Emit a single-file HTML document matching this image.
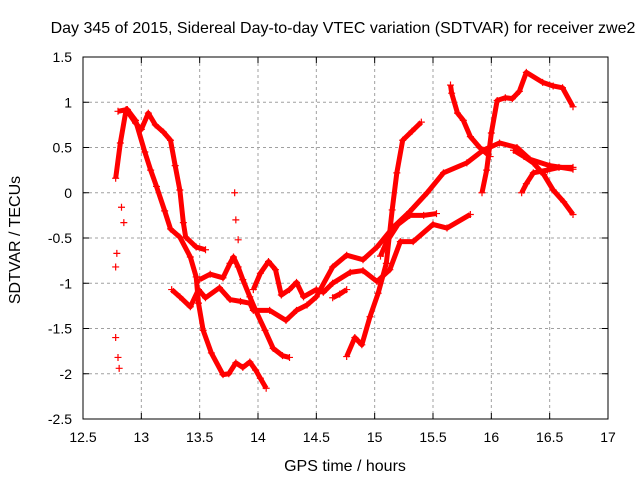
<!DOCTYPE html>
<html><head><meta charset="utf-8"><style>
body{margin:0;background:#fff;}
svg text{font-family:"Liberation Sans",sans-serif;fill:#000;}
</style></head><body>
<svg id="chart" width="640" height="480" xmlns="http://www.w3.org/2000/svg">
<rect width="640" height="480" fill="#fff"/>
<text x="343" y="33" font-size="16" text-anchor="middle">Day 345 of 2015, Sidereal Day-to-day VTEC variation (SDTVAR) for receiver zwe2</text>
<g id="grid"></g>
<g id="axes"></g>
<g id="marks"></g>
<text x="345" y="471" font-size="16" text-anchor="middle">GPS time / hours</text>
<text transform="translate(20,240) rotate(-90)" font-size="16" text-anchor="middle">SDTVAR / TECUs</text>
</svg>
<script>
const xTicks=[12.5,13,13.5,14,14.5,15,15.5,16,16.5,17];
const xTickLabels=["12.5","13","13.5","14","14.5","15","15.5","16","16.5","17"];
const yTicks=[1.5,1,0.5,0,-0.5,-1,-1.5,-2,-2.5];
const yTickLabels=["1.5","1","0.5","0","-0.5","-1","-1.5","-2","-2.5"];
const trackA_t=[12.78,12.82,12.87,12.95,13.0,13.06,13.12,13.19,13.25,13.29,13.33,13.36,13.38,13.47,13.55];
const trackA_v=[0.16,0.55,0.92,0.77,0.7,0.88,0.75,0.67,0.58,0.3,0.03,-0.33,-0.49,-0.6,-0.63];
const trackB_t=[12.8,12.88,12.95,13.03,13.08,13.13,13.2,13.25,13.33,13.42,13.47,13.49,13.53,13.6,13.7,13.75,13.81,13.87,13.93,13.98,14.02,14.07];
const trackB_v=[0.9,0.92,0.8,0.45,0.25,0.07,-0.2,-0.4,-0.49,-0.71,-0.93,-1.22,-1.52,-1.77,-2.01,-2.0,-1.88,-1.93,-1.87,-1.96,-2.05,-2.16];
const trackC_t=[13.26,13.33,13.42,13.49,13.55,13.67,13.76,13.85,13.93,13.96,14.1,14.24,14.33,14.42,14.5,14.64,14.76,14.9,15.02,15.16,15.3,15.45,15.59,15.79,15.93,16.07,16.22,16.33,16.5,16.7];
const trackC_v=[-1.07,-1.15,-1.26,-1.07,-1.16,-1.05,-1.18,-1.2,-1.22,-1.3,-1.3,-1.41,-1.3,-1.24,-1.15,-0.82,-0.69,-0.74,-0.6,-0.38,-0.21,0.0,0.22,0.33,0.47,0.55,0.5,0.37,0.3,0.26];
const trackD_t=[13.5,13.59,13.7,13.76,13.79,13.83,13.87,13.93,13.98,14.06,14.13,14.21,14.27];
const trackD_v=[-0.96,-0.9,-0.94,-0.78,-0.71,-0.82,-0.96,-1.15,-1.3,-1.52,-1.72,-1.8,-1.82];
const trackE_t=[13.96,14.02,14.09,14.15,14.2,14.27,14.33,14.39,14.5,14.56,14.64,14.79,14.9,15.02,15.13,15.22,15.33,15.5,15.62,15.82];
const trackE_v=[-1.07,-0.89,-0.76,-0.85,-1.13,-1.07,-0.99,-1.15,-1.07,-1.1,-1.0,-0.88,-0.86,-0.98,-0.85,-0.54,-0.54,-0.35,-0.39,-0.24];
const trackF_t=[15.05,15.1,15.2,15.3,15.42,15.53];
const trackF_v=[-0.7,-0.55,-0.35,-0.25,-0.25,-0.23];
const trackG_t=[14.76,14.83,14.89,14.96,15.03,15.1,15.15,15.19,15.24,15.32,15.4];
const trackG_v=[-1.81,-1.6,-1.68,-1.37,-1.11,-0.78,-0.19,0.22,0.58,0.68,0.78];
const trackH_t=[14.64,14.7,14.76];
const trackH_v=[-1.16,-1.12,-1.07];
const trackI_t=[15.65,15.66,15.71,15.76,15.82,15.9,15.99];
const trackI_v=[1.19,1.1,0.88,0.8,0.62,0.5,0.4];
const trackJ_t=[15.92,15.96,16.0,16.05,16.12,16.18,16.24,16.3,16.44,16.53,16.61,16.7];
const trackJ_v=[0.0,0.25,0.66,1.02,1.05,1.04,1.12,1.33,1.22,1.18,1.16,0.95];
const trackK_t=[16.19,16.28,16.36,16.45,16.53,16.62,16.7];
const trackK_v=[0.47,0.4,0.33,0.2,0.03,-0.1,-0.24];
const trackL_t=[16.26,16.3,16.36,16.48,16.58,16.7];
const trackL_v=[0.0,0.1,0.22,0.25,0.28,0.28];
const trackM_t=[13.8,13.81,13.83,12.83,12.85,12.79,12.78,12.78,12.8,12.81];
const trackM_v=[0.0,-0.3,-0.52,-0.16,-0.33,-0.67,-0.82,-1.6,-1.82,-1.94];

const X=t=>83+(t-12.5)*525/4.5;
const Y=v=>57+(1.5-v)*362/4;
const NS="http://www.w3.org/2000/svg";
function mk(tag,parent,attrs){const e=document.createElementNS(NS,tag);for(const k in attrs)e.setAttribute(k,attrs[k]);parent.appendChild(e);return e;}
const grid=document.getElementById('grid'),axes=document.getElementById('axes'),marks=document.getElementById('marks');
xTicks.forEach((t,i)=>{
 if(i>0&&i<xTicks.length-1){const g=mk('line',grid,{x1:X(t),x2:X(t),y1:57,y2:419,stroke:'#a0a0a0','stroke-dasharray':'3,3'});
 
 }
 mk('line',axes,{x1:X(t),x2:X(t),y1:419,y2:413,stroke:'#000'});
 mk('line',axes,{x1:X(t),x2:X(t),y1:57,y2:63,stroke:'#000'});
 const l=mk('text',axes,{x:X(t),y:442,'font-size':'14','text-anchor':'middle'});l.textContent=xTickLabels[i];
 
 
});
yTicks.forEach((v,i)=>{
 if(i>0&&i<yTicks.length-1){const g=mk('line',grid,{x1:83,x2:608,y1:Y(v),y2:Y(v),stroke:'#a0a0a0','stroke-dasharray':'3,3'});
 
 }
 mk('line',axes,{x1:83,x2:89,y1:Y(v),y2:Y(v),stroke:'#000'});
 mk('line',axes,{x1:608,x2:602,y1:Y(v),y2:Y(v),stroke:'#000'});
 const l=mk('text',axes,{x:72,y:Y(v)+5,'font-size':'14','text-anchor':'end'});l.textContent=yTickLabels[i];
 
 
});
mk('rect',axes,{x:83,y:57,width:525,height:362,fill:'none',stroke:'#000'});
const tracks=[[trackA_t,trackA_v],[trackB_t,trackB_v],[trackC_t,trackC_v],[trackD_t,trackD_v],[trackE_t,trackE_v],[trackF_t,trackF_v],[trackG_t,trackG_v],[trackH_t,trackH_v],[trackI_t,trackI_v],[trackJ_t,trackJ_v],[trackK_t,trackK_v],[trackL_t,trackL_v]];
tracks.forEach(([ts,vs])=>{
 const pts=ts.map((t,i)=>X(t)+','+Y(vs[i])).join(' ');
 const pl=mk('polyline',marks,{points:pts,fill:'none',stroke:'#f00','stroke-width':'5','stroke-linejoin':'round'});
 
 
});
function plus(t,v){
 const p=mk('path',marks,{d:`M${X(t)-3.5},${Y(v)}h7M${X(t)},${Y(v)-3.5}v7`,stroke:'#f00','stroke-width':'1.2'});
 
 
}
tracks.forEach(([ts,vs])=>ts.forEach((t,i)=>plus(t,vs[i])));
trackM_t.forEach((t,i)=>plus(t,trackM_v[i]));
</script>
</body></html>
